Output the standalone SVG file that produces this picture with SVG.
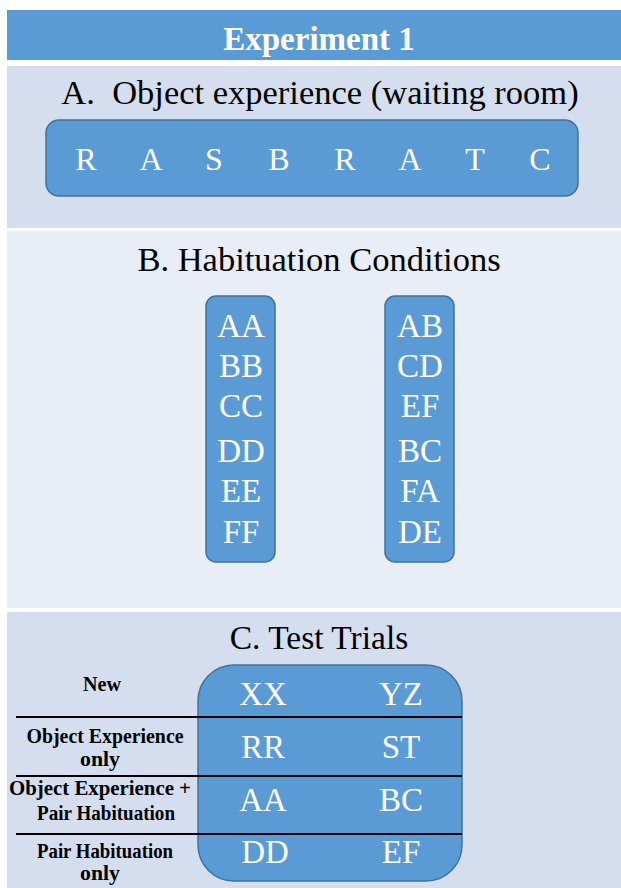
<svg xmlns="http://www.w3.org/2000/svg" width="621" height="888" viewBox="0 0 621 888" font-family="'Liberation Serif', 'Times New Roman', serif">
<style>
.band{fill:#d5deef}
.bandB{fill:#e9edf6}
.box{fill:#5b9bd5;stroke:#41719c;stroke-width:1.5}
text{font-family:"Liberation Serif","Times New Roman",serif}
.ctr{text-anchor:middle}
.w{fill:#ffffff}
.k{fill:#000000}
.lbl{font-weight:bold;font-size:20px;text-anchor:middle;fill:#000}
.sep{stroke:#000;stroke-width:2}
</style>
<rect x="0" y="0" width="621" height="888" fill="#ffffff"/>
<g id="header">
<rect x="7" y="10" width="614" height="50" fill="#5b9bd5"/>
<text class="ctr w" x="319" y="50" font-size="33" font-weight="bold">Experiment 1</text>
</g>
<g id="sectionA">
<rect class="band" x="7" y="66" width="614" height="162"/>
<text class="ctr k" x="320" y="104" font-size="34.5" xml:space="preserve">A.  Object experience (waiting room)</text>
</g>
<g id="boxA">
<rect class="box" x="46" y="120" width="532" height="76" rx="13"/>
<g class="ctr w" font-size="32">
<text x="86" y="170">R</text>
<text x="151" y="170">A</text>
<text x="214" y="170">S</text>
<text x="279" y="170">B</text>
<text x="345" y="170">R</text>
<text x="410" y="170">A</text>
<text x="475" y="170">T</text>
<text x="540" y="170">C</text>
</g>
</g>
<g id="sectionB">
<rect class="bandB" x="7" y="231" width="614" height="377"/>
<text class="ctr k" x="319" y="271" font-size="34.5">B. Habituation Conditions</text>
</g>
<g id="colSame">
<rect class="box" x="206" y="296" width="69" height="266" rx="10"/>
<g class="ctr w" font-size="33">
<text x="241" y="337">AA</text>
<text x="241" y="377">BB</text>
<text x="241" y="417">CC</text>
<text x="241" y="462">DD</text>
<text x="241" y="502">EE</text>
<text x="241" y="543">FF</text>
</g>
</g>
<g id="colPair">
<rect class="box" x="385" y="296" width="69" height="266" rx="10"/>
<g class="ctr w" font-size="33">
<text x="420" y="337">AB</text>
<text x="420" y="377">CD</text>
<text x="420" y="417">EF</text>
<text x="420" y="462">BC</text>
<text x="420" y="502">FA</text>
<text x="420" y="543">DE</text>
</g>
</g>
<g id="sectionC">
<rect class="band" x="7" y="612" width="614" height="276"/>
<text class="ctr k" x="319" y="649" font-size="33.5">C. Test Trials</text>
</g>
<g id="testBox">
<rect class="box" x="198" y="665" width="264" height="216" rx="36"/>
<g class="ctr w" font-size="33">
<text x="263" y="705">XX</text>
<text x="401" y="705">YZ</text>
<text x="263" y="758">RR</text>
<text x="401" y="758">ST</text>
<text x="263" y="811">AA</text>
<text x="401" y="811">BC</text>
<text x="265" y="863">DD</text>
<text x="401" y="863">EF</text>
</g>
</g>
<g id="connectors">
<line class="sep" x1="16" y1="717" x2="462" y2="717"/>
<line class="sep" x1="16" y1="776" x2="462" y2="776"/>
<line class="sep" x1="16" y1="834" x2="462" y2="834"/>
</g>
<g id="labels">
<text class="lbl" x="102" y="691" textLength="38" lengthAdjust="spacingAndGlyphs">New</text>
<text class="lbl" x="105" y="743" textLength="157" lengthAdjust="spacingAndGlyphs">Object Experience</text>
<text class="lbl" x="100" y="766" textLength="40" lengthAdjust="spacingAndGlyphs">only</text>
<text class="lbl" x="100" y="795" textLength="182" lengthAdjust="spacingAndGlyphs">Object Experience +</text>
<text class="lbl" x="106" y="820" textLength="138" lengthAdjust="spacingAndGlyphs">Pair Habituation</text>
<text class="lbl" x="105" y="858" textLength="136" lengthAdjust="spacingAndGlyphs">Pair Habituation</text>
<text class="lbl" x="100" y="880" textLength="40" lengthAdjust="spacingAndGlyphs">only</text>
</g>
</svg>
